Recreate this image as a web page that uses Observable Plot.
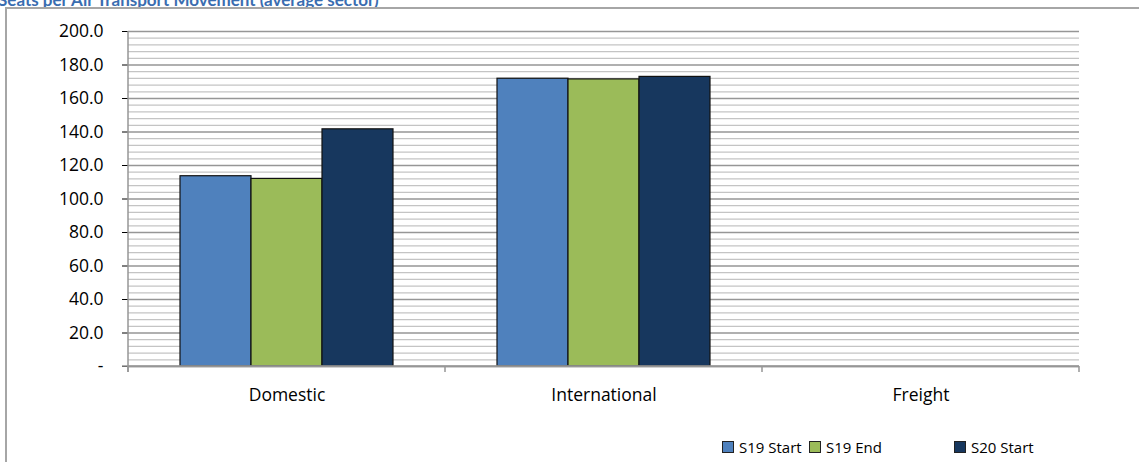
<!DOCTYPE html>
<html>
<head>
<meta charset="utf-8">
<script src="https://cdn.jsdelivr.net/npm/d3@7"></script>
<script src="https://cdn.jsdelivr.net/npm/@observablehq/plot@0.6"></script>
<style>
  html, body { margin: 0; padding: 0; background: #fff; }
  #wrap { position: relative; width: 1139px; height: 462px; overflow: hidden; font-family: "Open Sans", sans-serif; }
  #frame { position: absolute; left: 5px; top: 7px; width: 1200px; height: 600px; border-left: 2px solid #a6a6a6; border-top: 2px solid #a6a6a6; box-sizing: border-box; }
  #title { position: absolute; left: -2px; top: -11px; font: bold 17px Lato, "Open Sans", sans-serif; color: #3a6db0; white-space: nowrap; }
  #chart { position: absolute; left: 0; top: 0; }
  .leg { position: absolute; top: 437px; font-size: 15px; color: #000; display: flex; align-items: center; white-space: nowrap; }
  .leg span.sw { display: inline-block; width: 10px; height: 10px; border: 1px solid #222; margin-right: 5px; }
</style>
</head>
<body>
<div id="wrap">
  <div id="title">Seats per Air Transport Movement (average sector)</div>
  <div id="frame"></div>
  <div id="chart"></div>
</div>
<script>
const categories = ["Domestic", "International", "Freight"];
const seriesNames = ["S19 Start", "S19 End", "S20 Start"];
const seriesColors = ["#4f81bd", "#9bbb59", "#17375e"];
const valuesS19Start = [113.6, 171.8, null];
const valuesS19End   = [112.0, 171.4, null];
const valuesS20Start = [141.6, 172.9, null];
const yTicks = [0, 20, 40, 60, 80, 100, 120, 140, 160, 180, 200];
const yMinor = d3.range(0, 201, 4);

const seriesValues = [valuesS19Start, valuesS19End, valuesS20Start];
const data = [];
categories.forEach((c, i) => {
  seriesNames.forEach((s, j) => {
    data.push({category: c, series: s, value: seriesValues[j][i]});
  });
});

const chart = Plot.plot({
  width: 1139,
  height: 462,
  marginLeft: 128,
  marginRight: 60,
  marginTop: 31,
  marginBottom: 96,
  style: {fontFamily: "'Open Sans', sans-serif", fontSize: "17.5px", color: "#000", background: "transparent"},
  fx: {domain: categories, padding: 0, label: null, tickSize: 0, tickPadding: 22},
  x: {domain: seriesNames, paddingInner: 0, paddingOuter: 0.73, axis: null},
  y: {domain: [0, 200], label: null, ticks: yTicks, tickSize: 6, tickPadding: 19,
      tickFormat: d => d === 0 ? "-" : d.toFixed(1)},
  color: {domain: seriesNames, range: seriesColors},
  marks: [
    Plot.ruleY(yMinor.filter(v => v % 20 !== 0), {stroke: "#c4c4c4", strokeWidth: 1.3}),
    Plot.ruleY(yTicks, {stroke: "#969696", strokeWidth: 1.3}),
    Plot.barY(data, {fx: "category", x: "series", y: "value", fill: "series", stroke: "#111", strokeWidth: 1.2}),
    Plot.ruleY([0], {stroke: "#969696", strokeWidth: 1.5})
  ]
});
document.getElementById("chart").appendChild(chart);

// axis lines and category boundary ticks using the plot's scales
const fx = chart.scale("fx");
const y = chart.scale("y");
const svg = d3.select(chart);
const g = svg.append("g").attr("stroke", "#969696").attr("stroke-width", 1.5);
const left = fx.apply(categories[0]);
const right = fx.apply(categories[categories.length - 1]) + fx.bandwidth;
g.append("line").attr("x1", left).attr("x2", left).attr("y1", y.apply(200)).attr("y2", y.apply(0) + 6);
g.append("line").attr("x1", left - 6).attr("x2", right).attr("y1", y.apply(0)).attr("y2", y.apply(0));
const bounds = categories.map(c => fx.apply(c)).concat([right]);
bounds.forEach(b => g.append("line").attr("x1", b).attr("x2", b).attr("y1", y.apply(0)).attr("y2", y.apply(0) + 6));
svg.selectAll("[aria-label='y-axis tick']").attr("stroke", "#969696");

// legend
const legX = [722, 809, 954];
seriesNames.forEach((s, i) => {
  const d = document.createElement("div");
  d.className = "leg";
  d.style.left = legX[i] + "px";
  d.innerHTML = `<span class="sw" style="background:${seriesColors[i]}"></span>${s}`;
  document.getElementById("wrap").appendChild(d);
});
</script>
</body>
</html>
